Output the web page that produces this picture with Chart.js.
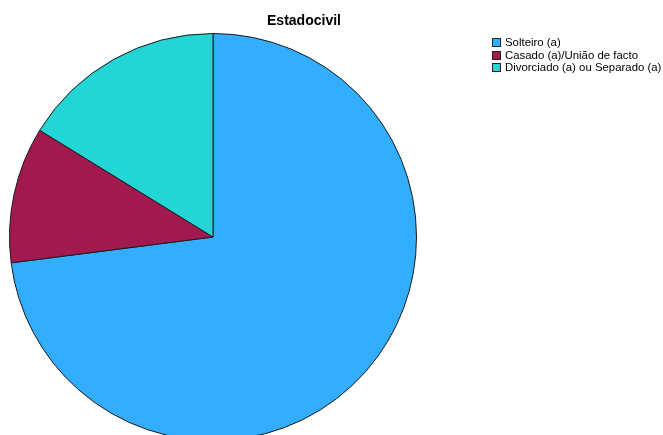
<!DOCTYPE html>
<html>
<head>
<meta charset="utf-8">
<script src="https://cdn.jsdelivr.net/npm/chart.js@4/dist/chart.umd.min.js"></script>
<style>
  html, body { margin: 0; padding: 0; background: #fff; overflow: hidden; }
  #wrap { position: relative; width: 663px; height: 449px; }
  #title { position: absolute; left: 0; width: 608px; top: 12px; text-align: center;
    font: bold 14px "Liberation Sans", Arial, sans-serif; color: #000; }
  #legend { position: absolute; left: 492px; top: 36px;
    font: 11.4px "Liberation Sans", Arial, sans-serif; color: #000; }
  #legend div { height: 12.5px; line-height: 12px; white-space: nowrap; }
  #legend span.box { display: inline-block; width: 9px; height: 9px; border: 1px solid #222;
    box-sizing: border-box; vertical-align: -1px; margin-right: 4px; }
</style>
</head>
<body>
<div id="wrap">
  <canvas id="pieChart" width="663" height="449"></canvas>
  <div id="title"></div>
  <div id="legend"></div>
</div>
<script>
const chartTitle = "Estadocivil";
const categories = ["Solteiro (a)", "Casado (a)/União de facto", "Divorciado (a) ou Separado (a)"];
const counts = [27, 4, 6];
const colors = ["#33adff", "#a2194f", "#23d5d5"];

document.addEventListener("DOMContentLoaded", function () {
    document.getElementById("title").textContent = chartTitle;
    const legend = document.getElementById("legend");
    categories.forEach(function (c, i) {
        const row = document.createElement("div");
        const box = document.createElement("span");
        box.className = "box";
        box.style.background = colors[i];
        row.appendChild(box);
        row.appendChild(document.createTextNode(c));
        legend.appendChild(row);
    });

    const ctx = document.getElementById("pieChart").getContext("2d");
    new Chart(ctx, {
        type: "pie",
        data: {
            labels: categories,
            datasets: [{
                data: counts,
                backgroundColor: colors,
                borderColor: "#1a1a1a",
                borderWidth: 1
            }]
        },
        options: {
            responsive: false,
            animation: false,
            layout: { padding: { left: 9, top: 33, right: 246, bottom: 8 } },
            plugins: {
                legend: { display: false },
                title: { display: false },
                tooltip: { enabled: false }
            }
        }
    });
});
</script>
</body>
</html>
